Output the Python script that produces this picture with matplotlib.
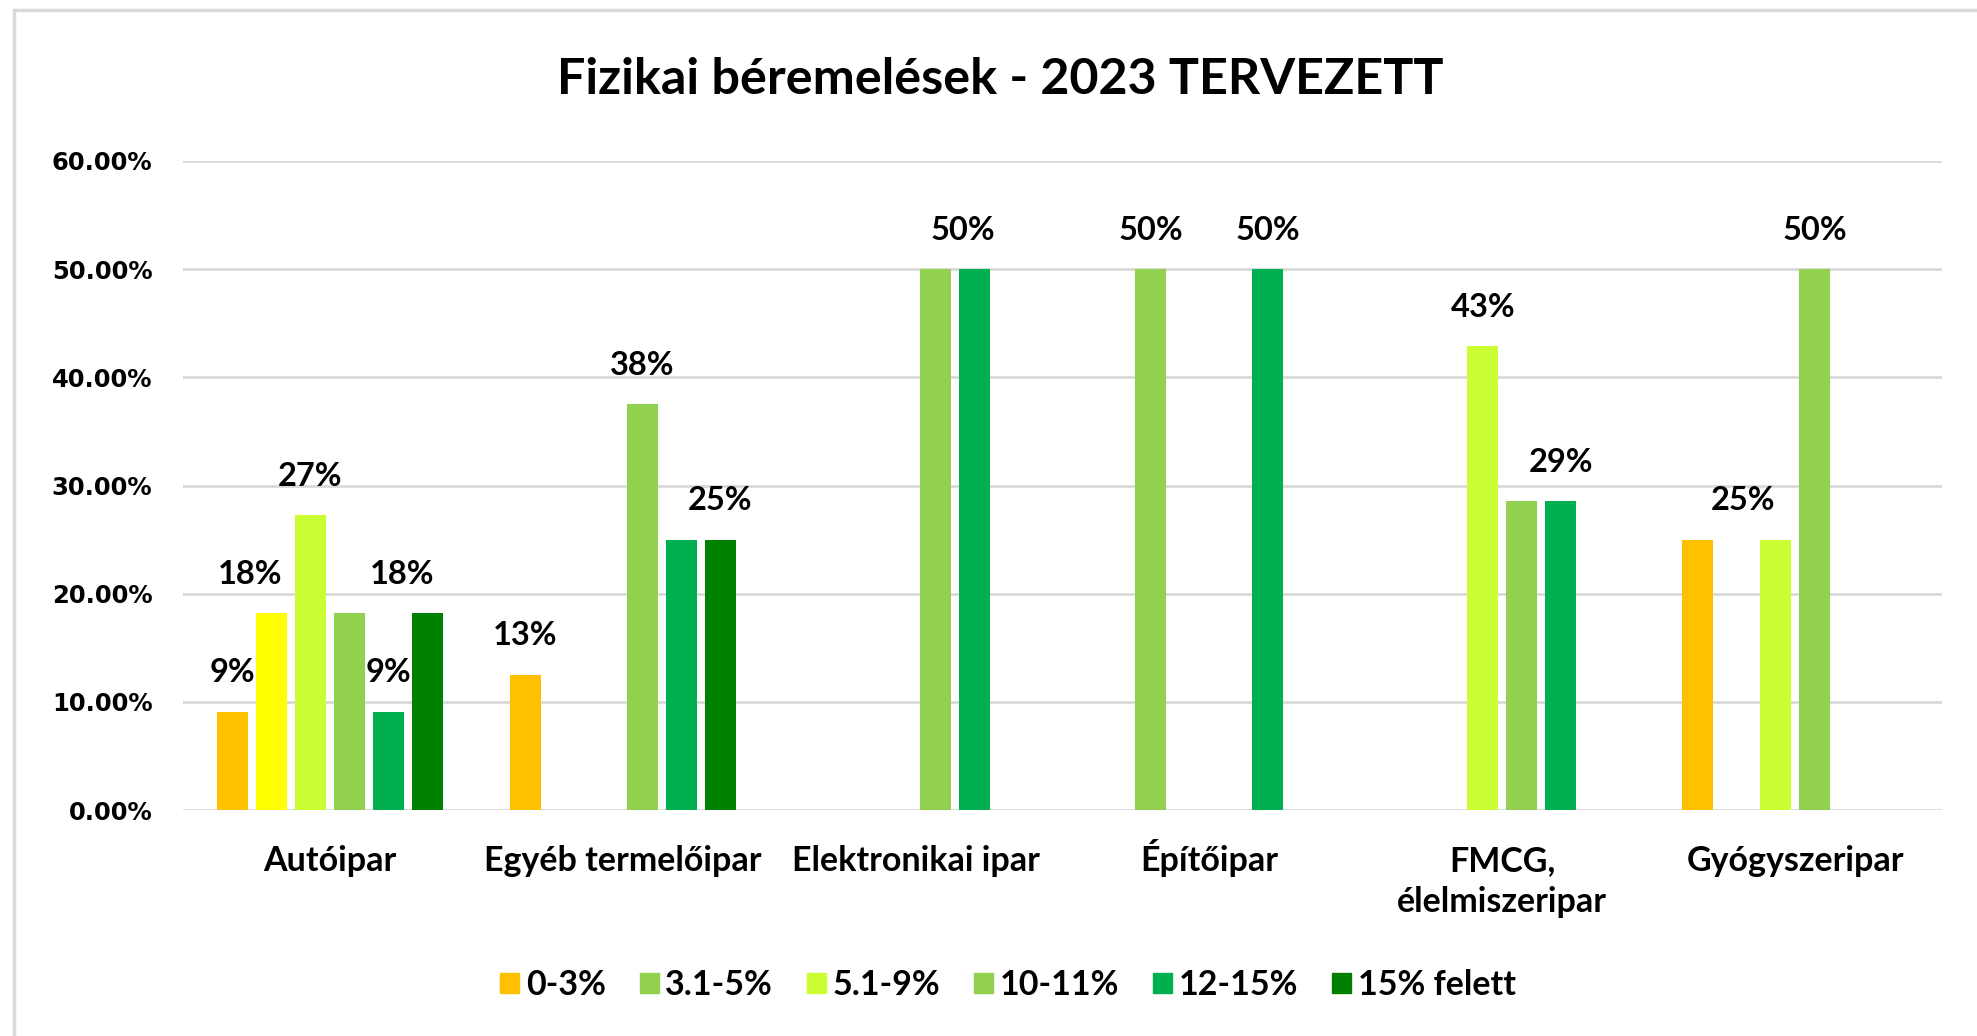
import numpy as np
import matplotlib
matplotlib.use("Agg")
import matplotlib.pyplot as plt
from matplotlib.patches import Rectangle, Patch

categories = ["Autóipar", "Egyéb termelőipar", "Elektronikai ipar", "Építőipar",
              "FMCG,\nélelmiszeripar", "Gyógyszeripar"]
series = ["0-3%", "3.1-5%", "5.1-9%", "10-11%", "12-15%", "15% felett"]
colors = ["#FFC000", "#92D050", "#CCFF33", "#92D050", "#00B050", "#008000"]

# percent values, one list per series (index = category)
v_0_3 = [9.09, 12.5, 0, 0, 0, 25.0]
v_3_5 = [18.18, 0, 0, 50.0, 0, 0]
v_5_9 = [27.27, 0, 0, 0, 42.86, 25.0]
v_10_11 = [18.18, 37.5, 50.0, 0, 28.57, 50.0]
v_12_15 = [9.09, 25.0, 50.0, 50.0, 28.57, 0]
v_15_plus = [18.18, 25.0, 0, 0, 0, 0]
values = [v_0_3, v_3_5, v_5_9, v_10_11, v_12_15, v_15_plus]

# single bar with its own colour (Autóipar, 3.1-5%)
point_colors = {(1, 0): "#FFFF00"}

# which bars carry a data label: (series, category, shift in bar pitches)
labels = [(0, 0, 0), (1, 0, -0.54), (2, 0, 0), (4, 0, 0), (5, 0, -0.64),
          (0, 1, 0), (3, 1, 0), (5, 1, 0),
          (4, 2, -0.3),
          (1, 3, 0), (4, 3, 0),
          (2, 4, 0), (4, 4, 0),
          (2, 5, -0.85), (3, 5, 0)]

fig = plt.figure(figsize=(19.77, 10.36), dpi=100)
ax = fig.add_axes([183/1977, 1-810/1036, 1759/1977, 649/1036])

lab_font = "Lato"
pitch = 0.133
bw = 0.106
x = np.arange(len(categories))
for s in range(len(series)):
    xs = x + (s - 2.5)*pitch
    cols = [point_colors.get((s, c), colors[s]) for c in range(len(categories))]
    ax.bar(xs, values[s], width=bw, color=cols, zorder=3)

for s, c, dx in labels:
    v = values[s][c]
    xx = c + (s - 2.5 + dx)*pitch
    ax.annotate("%d%%" % int(v + 0.5), (xx, v), xytext=(0, 28), textcoords="offset points",
                ha="center", va="center", fontsize=23.5, fontweight="bold",
                family=lab_font, color="#000000")

ax.set_xlim(-0.5, 5.5)
ax.set_ylim(0, 60)
ax.set_yticks(np.arange(0, 61, 10))
ax.set_yticklabels(["%.2f%%" % t for t in np.arange(0, 61, 10)],
                   fontsize=17.5, fontweight="bold", family="DejaVu Sans")
ax.set_xticks(x)
ax.set_xticklabels([])
ax.tick_params(axis="both", length=0)
ax.tick_params(axis="y", pad=22)

# category names, every line on its own baseline (like Excel)
tr = ax.get_xaxis_transform()
for i, name in enumerate(categories):
    for j, line in enumerate(name.split("\n")):
        ax.text(i, -(61 + 41*j)/649, line, transform=tr, ha="center", va="baseline",
                fontsize=24.5, fontweight="bold", family=lab_font)

ax.grid(axis="y", color="#D9D9D9", linewidth=2, zorder=0)
for sp in ax.spines.values():
    sp.set_visible(False)

fig.text(1000/1977, 1-80/1036, "Fizikai béremelések - 2023 TERVEZETT", ha="center", va="center",
         fontsize=36.2, fontweight="bold", family=lab_font)

handles = [Patch(color=colors[i], label=series[i]) for i in range(len(series))]
fig.legend(handles=handles, loc="center", bbox_to_anchor=(1008/1977, 1-985/1036), ncol=6,
           frameon=False, prop={"family": lab_font, "weight": "bold", "size": 24.5},
           handlelength=0.55, handleheight=0.55, handletextpad=0.2, columnspacing=1.0)

fig.patches.append(Rectangle((14/1977, -0.1), 1.2, 1.1-10/1036, transform=fig.transFigure,
                             fill=False, edgecolor="#D9D9D9", linewidth=2.5))

fig.savefig("out.png", dpi=100, facecolor="white")
